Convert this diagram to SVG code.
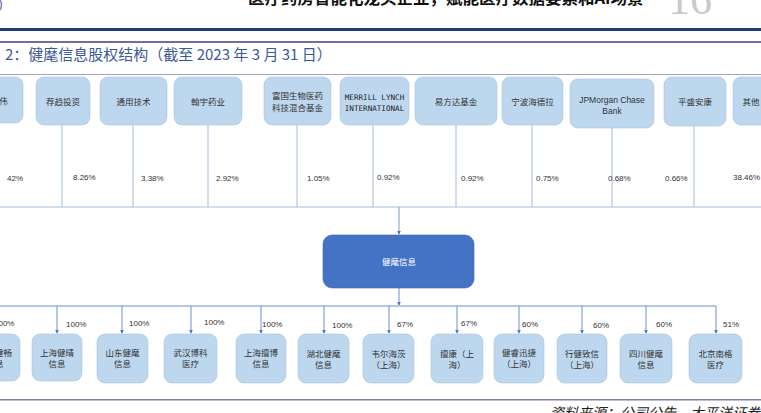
<svg xmlns="http://www.w3.org/2000/svg" width="761" height="413" viewBox="0 0 761 413">
<defs>
<style>
.box{fill:#bdd7ee;stroke:#aac3de;stroke-width:0.6}
.lbl{font-family:"Noto Sans CJK SC","Noto Sans",sans-serif;font-size:8.5px;fill:#333;text-anchor:middle}
.en{font-family:"DejaVu Sans Mono","Liberation Mono",monospace;font-size:7.6px;fill:#222;text-anchor:middle}
.pct{font-family:"Liberation Sans","Noto Sans CJK SC",sans-serif;font-size:8px;fill:#333}
.top{stroke:#a6bddb;stroke-width:1;fill:none}
.bot{stroke:#6d93c9;stroke-width:1;fill:none}
</style>
<marker id="arr" viewBox="0 0 6 6" refX="5" refY="3" markerWidth="4" markerHeight="4" orient="auto">
<path d="M0,0 L6,3 L0,6 z" fill="#4a78bf"/>
</marker>
</defs>
<rect width="761" height="413" fill="#fff"/>
<path d="M0,0 Q3,5 0,10" fill="none" stroke="#8a7ab8" stroke-width="1.5"/>
<text x="248" y="4" font-family="Noto Sans CJK SC,sans-serif" font-size="16.5" font-weight="bold" fill="#111">医疗药房智能化龙头企业，赋能医疗数据要素和AI场景</text>
<text x="668" y="14" font-family="Liberation Serif,serif" font-size="44" fill="#c9c9c9">16</text>
<rect x="0" y="28" width="761" height="3" fill="#1f3f6e"/>
<rect x="0" y="41" width="761" height="2" fill="#6e6ea0"/>
<text x="5" y="60" font-family="Noto Sans CJK SC,sans-serif" font-size="15" fill="#3c5a96">2：健麾信息股权结构（截至 2023 年 3 月 31 日）</text>
<rect x="0" y="74" width="761" height="1" fill="#a4a4c6"/>

<g id="connectors">
<path class="top" d="M62,125V207M133,125V207M208,125V207M297,125V207M373,125V207M456,125V207M532,125V207M612,128V207M694,126V207M0,207H761"/>
<path class="top" d="M399,207V234" marker-end="url(#arr)" style="stroke:#7d9dcc"/>
<path class="bot" d="M399,288V305" marker-end="url(#arr)"/>
<path class="bot" d="M0,306H716"/>
<path class="bot" marker-end="url(#arr)" d="M57,306V333"/>
<path class="bot" marker-end="url(#arr)" d="M122,306V333"/>
<path class="bot" marker-end="url(#arr)" d="M191,306V333"/>
<path class="bot" marker-end="url(#arr)" d="M261,306V333"/>
<path class="bot" marker-end="url(#arr)" d="M324,306V333"/>
<path class="bot" marker-end="url(#arr)" d="M389,306V333"/>
<path class="bot" marker-end="url(#arr)" d="M457,306V333"/>
<path class="bot" marker-end="url(#arr)" d="M519,306V333"/>
<path class="bot" marker-end="url(#arr)" d="M582,306V333"/>
<path class="bot" marker-end="url(#arr)" d="M646,306V333"/>
<path class="bot" marker-end="url(#arr)" d="M716,306V333"/>
</g>

<g id="pct-top">
<text class="pct" x="7" y="181">42%</text>
<text class="pct" x="73" y="180">8.26%</text>
<text class="pct" x="141" y="181">3.38%</text>
<text class="pct" x="216" y="181">2.92%</text>
<text class="pct" x="307" y="181">1.05%</text>
<text class="pct" x="377" y="180">0.92%</text>
<text class="pct" x="461" y="181">0.92%</text>
<text class="pct" x="536" y="181">0.75%</text>
<text class="pct" x="608" y="181">0.68%</text>
<text class="pct" x="665" y="181">0.66%</text>
<text class="pct" x="733" y="180">38.46%</text>
</g>
<g id="pct-bot">
<text class="pct" x="-6" y="326">100%</text>
<text class="pct" x="66" y="327">100%</text>
<text class="pct" x="129" y="326">100%</text>
<text class="pct" x="204" y="325">100%</text>
<text class="pct" x="262" y="327">100%</text>
<text class="pct" x="332" y="328">100%</text>
<text class="pct" x="397" y="327">67%</text>
<text class="pct" x="461" y="326">67%</text>
<text class="pct" x="522" y="327">60%</text>
<text class="pct" x="593" y="328">60%</text>
<text class="pct" x="656" y="327">60%</text>
<text class="pct" x="723" y="327">51%</text>
</g>

<g id="n-dai"><rect class="box" x="-32" y="77" width="55" height="46" rx="8"/><text class="lbl" x="-5" y="104">戴建伟</text></g>
<g id="n-jianqu"><rect class="box" x="36" y="77" width="54" height="48" rx="8"/><text class="lbl" x="63" y="105">荐趋投资</text></g>
<g id="n-tongyong"><rect class="box" x="100" y="77" width="67" height="48" rx="8"/><text class="lbl" x="133.5" y="105">通用技术</text></g>
<g id="n-hanyu"><rect class="box" x="174" y="77" width="68" height="48" rx="8"/><text class="lbl" x="208" y="105">翰宇药业</text></g>
<g id="n-fuguo"><rect class="box" x="264" y="77" width="67" height="48" rx="8"/><text class="lbl" x="297.5" y="99">富国生物医药</text><text class="lbl" x="297.5" y="111">科技混合基金</text></g>
<g id="n-merrill"><rect class="box" x="340" y="77" width="69" height="48" rx="8"/><text class="en" x="374.5" y="100">MERRILL LYNCH</text><text class="en" x="374.5" y="111">INTERNATIONAL</text></g>
<g id="n-efund"><rect class="box" x="415" y="77" width="82" height="48" rx="8"/><text class="lbl" x="456" y="105">易方达基金</text></g>
<g id="n-ningbo"><rect class="box" x="502" y="77" width="61" height="48" rx="8"/><text class="lbl" x="532.5" y="105">宁波海德拉</text></g>
<g id="n-jpm"><rect class="box" x="570" y="79" width="84" height="49" rx="8"/><text class="lbl" x="612" y="103" style="font-family:'Liberation Sans',sans-serif">JPMorgan Chase</text><text class="lbl" x="612" y="114" style="font-family:'Liberation Sans',sans-serif">Bank</text></g>
<g id="n-pingsheng"><rect class="box" x="664" y="77" width="62" height="49" rx="8"/><text class="lbl" x="695" y="105">平盛安康</text></g>
<g id="n-other"><rect class="box" x="733" y="77" width="50" height="48" rx="8"/><text class="lbl" x="751" y="105">其他</text></g>

<g id="n-center"><rect x="323" y="235" width="151" height="53" rx="9" fill="#4472c4" stroke="#3d66b0" stroke-width="0.6"/><text class="lbl" x="399" y="265" style="fill:#fff">健麾信息</text></g>

<g id="b1"><rect class="box" x="-30" y="334" width="50" height="47" rx="8"/><text class="lbl" x="-5" y="356">上海健畅</text><text class="lbl" x="-5" y="367">信息</text></g>
<g id="b2"><rect class="box" x="32" y="334" width="50" height="47" rx="8"/><text class="lbl" x="57" y="356">上海健晴</text><text class="lbl" x="57" y="367">信息</text></g>
<g id="b3"><rect class="box" x="97" y="334" width="51" height="49" rx="8"/><text class="lbl" x="122.5" y="356">山东健麾</text><text class="lbl" x="122.5" y="367">信息</text></g>
<g id="b4"><rect class="box" x="164" y="334" width="53" height="49" rx="8"/><text class="lbl" x="190.5" y="356">武汉博科</text><text class="lbl" x="190.5" y="367">医疗</text></g>
<g id="b5"><rect class="box" x="236" y="334" width="50" height="49" rx="8"/><text class="lbl" x="261" y="356">上海擅博</text><text class="lbl" x="261" y="367">信息</text></g>
<g id="b6"><rect class="box" x="298" y="334" width="51" height="49" rx="8"/><text class="lbl" x="323.5" y="357">湖北健麾</text><text class="lbl" x="323.5" y="368">信息</text></g>
<g id="b7"><rect class="box" x="363" y="334" width="51" height="49" rx="8"/><text class="lbl" x="388.5" y="357">韦尔海茨</text><text class="lbl" x="388.5" y="368">（上海）</text></g>
<g id="b8"><rect class="box" x="431" y="334" width="52" height="49" rx="8"/><text class="lbl" x="457" y="357">擅康（上</text><text class="lbl" x="457" y="368">海）</text></g>
<g id="b9"><rect class="box" x="494" y="334" width="50" height="49" rx="8"/><text class="lbl" x="519" y="356">健睿迅捷</text><text class="lbl" x="519" y="367">（上海）</text></g>
<g id="b10"><rect class="box" x="557" y="334" width="50" height="49" rx="8"/><text class="lbl" x="582" y="357">行健致信</text><text class="lbl" x="582" y="368">（上海）</text></g>
<g id="b11"><rect class="box" x="620" y="334" width="52" height="49" rx="8"/><text class="lbl" x="646" y="357">四川健麾</text><text class="lbl" x="646" y="368">信息</text></g>
<g id="b12"><rect class="box" x="689" y="334" width="53" height="49" rx="8"/><text class="lbl" x="715.5" y="357">北京南格</text><text class="lbl" x="715.5" y="368">医疗</text></g>

<rect x="0" y="399" width="761" height="1.5" fill="#7f7fae"/>
<text x="550" y="418" font-family="Noto Sans CJK SC,sans-serif" font-size="14" font-style="italic" fill="#222">资料来源：公司公告，太平洋证券</text>
</svg>
